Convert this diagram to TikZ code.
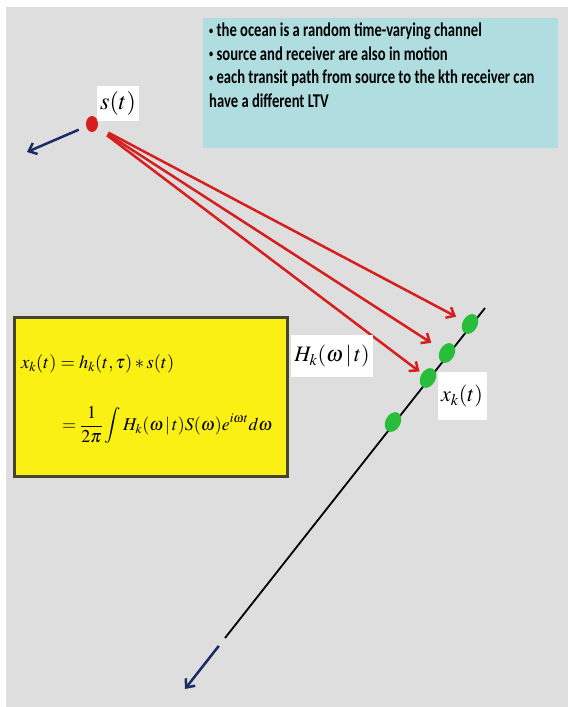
\documentclass[tikz,border=0pt]{standalone}
\usepackage{amsmath}
\usepackage{mathptmx}
\usepackage{fontspec}
\newfontfamily\notefont[FakeStretch=0.75]{Carlito}
\usepackage{tikz}
\usetikzlibrary{arrows.meta,shapes.geometric}

\definecolor{marble}{RGB}{222,222,222}
\definecolor{notecyan}{RGB}{176,222,224}
\definecolor{formulayellow}{RGB}{250,240,20}
\definecolor{boxedge}{RGB}{70,70,45}
\definecolor{pathred}{RGB}{215,30,30}
\definecolor{movblue}{RGB}{25,45,100}
\definecolor{rxgreen}{RGB}{40,190,60}
\newcommand{\notebullet}{\raisebox{2.5pt}{\fontsize{11}{11}\selectfont\textbullet}\ }

\begin{document}
\begin{tikzpicture}[x=1pt,y=-1pt,
  path/.style={draw=pathred,line width=2.5pt,-{Straight Barb[length=7pt,width=12pt]}},
  motion/.style={draw=movblue,line width=2.5pt,-{Straight Barb[length=7pt,width=12pt]}},
  rx/.style={ellipse,fill=rxgreen,inner sep=0pt,minimum width=21pt,minimum height=15pt,rotate=62},
  label/.style={fill=white,inner sep=3pt}]
\useasboundingbox (0,0) rectangle (568,707);
%背景
\fill[white] (0,0) rectangle (568,707);
\fill[marble] (6,7) rectangle (568,707);

%说明框
\fill[notecyan] (203,18) rectangle (558,148);
\node[anchor=north west,align=left,inner sep=0pt,
  font=\notefont\bfseries\fontsize{19.5}{23.5}\selectfont] (note) at (209,23)
  {\notebullet the ocean is a random time-varying channel\\
   \notebullet source and receiver are also in motion\\
   \notebullet each transit path from source to the kth receiver can\\
   have a different LTV};

%源
\node[ellipse,fill=pathred,inner sep=0pt,minimum width=12pt,minimum height=16pt] (src) at (92,124) {};
\node[label,fill=white,minimum width=37pt,minimum height=35pt] (srclabel) at (118,103) {\fontsize{24}{24}\selectfont $s(t)$};
\coordinate (srcmove) at (27,152);
\draw[motion,shorten <=8pt] (src)--(srcmove);

%接收阵
\coordinate (arraytop) at (485,308);
\coordinate (arraybot) at (225,638);
\coordinate (arraymove) at (185,689);
\draw[line width=1.8pt] (arraytop)--(arraybot);
\node[rx] (rx1) at (470,324) {};
\node[rx] (rx2) at (447,353) {};
\node[rx] (rx3) at (428,378) {};
\node[rx] (rx4) at (393,422) {};
\draw[motion,shorten <=10pt] (arraybot)--(arraymove);

%传播路径
\draw[path,shorten <=12pt,shorten >=8pt] (src)--(rx1);
\draw[path,shorten <=12pt,shorten >=11pt] (src)--(rx2);
\draw[path,shorten <=12pt,shorten >=3pt] (src)--(rx3);

%标注
\node[label,minimum width=80pt,minimum height=42pt] (hk) at (332,356) {\fontsize{22}{22}\selectfont $H_k(\omega\,|\,t)$};
\node[label,minimum width=49pt,minimum height=48pt] (xk) at (462,396) {\fontsize{22}{22}\selectfont $x_k(t)$};

%公式框
\draw[fill=formulayellow,draw=boxedge,line width=3pt] (14,317) rectangle (287,476);
\node[anchor=west,inner sep=0pt] (eq1) at (21,364) {\fontsize{18.5}{18.5}\selectfont $x_k(t)=h_k(t,\tau)\ast s(t)$};
\node[anchor=west,inner sep=0pt] (eq2) at (62,425) {\fontsize{18}{18}\selectfont $=\dfrac{1}{2\pi}\displaystyle\int H_k(\omega\,|\,t)S(\omega)e^{i\omega t}d\omega$};
\end{tikzpicture}
\end{document}
